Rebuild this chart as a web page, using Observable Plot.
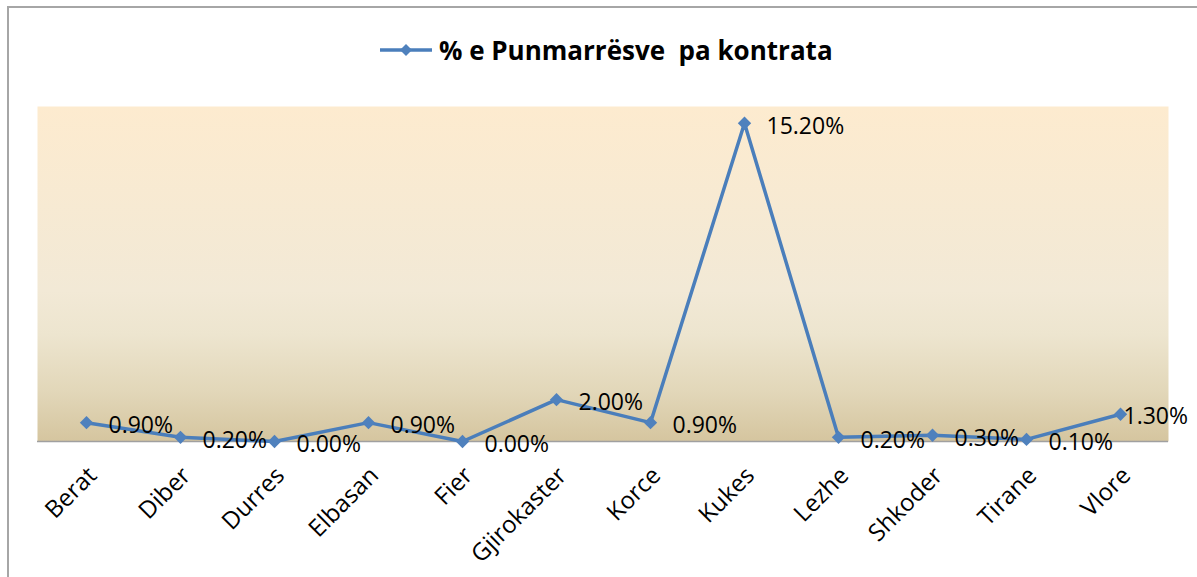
<!DOCTYPE html>
<html>
<head>
<meta charset="utf-8">
<script src="https://cdn.jsdelivr.net/npm/d3@7"></script>
<script src="https://cdn.jsdelivr.net/npm/@observablehq/plot@0.6"></script>
<style>
  html, body { margin: 0; padding: 0; background: #fff; }
  #wrap { position: relative; width: 1197px; height: 577px; overflow: hidden; font-family: "Open Sans", sans-serif; }
  #border { position: absolute; left: 7px; top: 6px; right: -10px; bottom: -10px; border-top: 2px solid #a6a6a6; border-left: 2px solid #a6a6a6; pointer-events: none; }
  #legend { position: absolute; left: 378px; top: 30px; height: 40px; display: flex; align-items: center; white-space: pre; font-weight: bold; font-size: 26px; color: #000; }
  #legend svg { margin-right: 5px; }
  #chart { position: absolute; left: 0; top: 0; }
</style>
</head>
<body>
<div id="wrap">
  <div id="chart"></div>
  <div id="border"></div>
  <div id="legend"><svg width="56" height="14"><line x1="2" y1="7" x2="54" y2="7" stroke="#4a7ebb" stroke-width="3.5"/><path d="M28,1 L34,7 L28,13 L22,7 Z" fill="#4f81bd"/></svg><span>% e Punmarrësve  pa kontrata</span></div>
</div>
<script>
const categories = ["Berat","Diber","Durres","Elbasan","Fier","Gjirokaster","Korce","Kukes","Lezhe","Shkoder","Tirane","Vlore"];
const values = [0.9, 0.2, 0.0, 0.9, 0.0, 2.0, 0.9, 15.2, 0.2, 0.3, 0.1, 1.3];
const labels = ["0.90%","0.20%","0.00%","0.90%","0.00%","2.00%","0.90%","15.20%","0.20%","0.30%","0.10%","1.30%"];
const seriesName = "% e Punmarrësve  pa kontrata";

const data = categories.map((c, i) => ({region: c, value: values[i], label: labels[i]}));
const lastIdx = data.length - 1;

const chart = Plot.plot({
  width: 1197,
  height: 577,
  marginLeft: 37,
  marginRight: 29,
  marginTop: 106,
  marginBottom: 136,
  style: {fontFamily: "'Open Sans', sans-serif", background: "transparent", overflow: "visible"},
  x: {type: "point", domain: categories, padding: 0.5, label: null},
  y: {domain: [0, 16], axis: null},
  marks: [
    Plot.frame({fill: "url(#bgGrad)", stroke: "none"}),
    Plot.ruleY([0], {stroke: "#a0a0a0", strokeWidth: 1.5}),
    Plot.axisX({tickRotate: -45, tickSize: 0, tickPadding: 30, fontSize: 24, fill: "#000", label: null, dx: 6}),
    Plot.line(data, {x: "region", y: "value", stroke: "#4a7ebb", strokeWidth: 3.5}),
    Plot.dot(data, {x: "region", y: "value", symbol: "diamond2", r: 6, fill: "#4f81bd", stroke: "none"}),
    Plot.text(data.filter((d, i) => i !== lastIdx), {x: "region", y: "value", text: "label", textAnchor: "start", dx: 22, dy: 3, fontSize: 23, fill: "#000"}),
    Plot.text(data.filter((d, i) => i === lastIdx), {x: "region", y: "value", text: "label", textAnchor: "start", dx: 3, dy: 2, fontSize: 23, fill: "#000"})
  ]
});

const svgNS = "http://www.w3.org/2000/svg";
const defs = document.createElementNS(svgNS, "defs");
defs.innerHTML = `<linearGradient id="bgGrad" x1="0" y1="0" x2="0" y2="1">
  <stop offset="0" stop-color="#fdebcf"/>
  <stop offset="0.55" stop-color="#f2e9d6"/>
  <stop offset="0.68" stop-color="#ede5cf"/>
  <stop offset="0.85" stop-color="#e2d7b9"/>
  <stop offset="1" stop-color="#d5c59f"/>
</linearGradient>`;
chart.insertBefore(defs, chart.firstChild);
document.getElementById("chart").appendChild(chart);
</script>
</body>
</html>
